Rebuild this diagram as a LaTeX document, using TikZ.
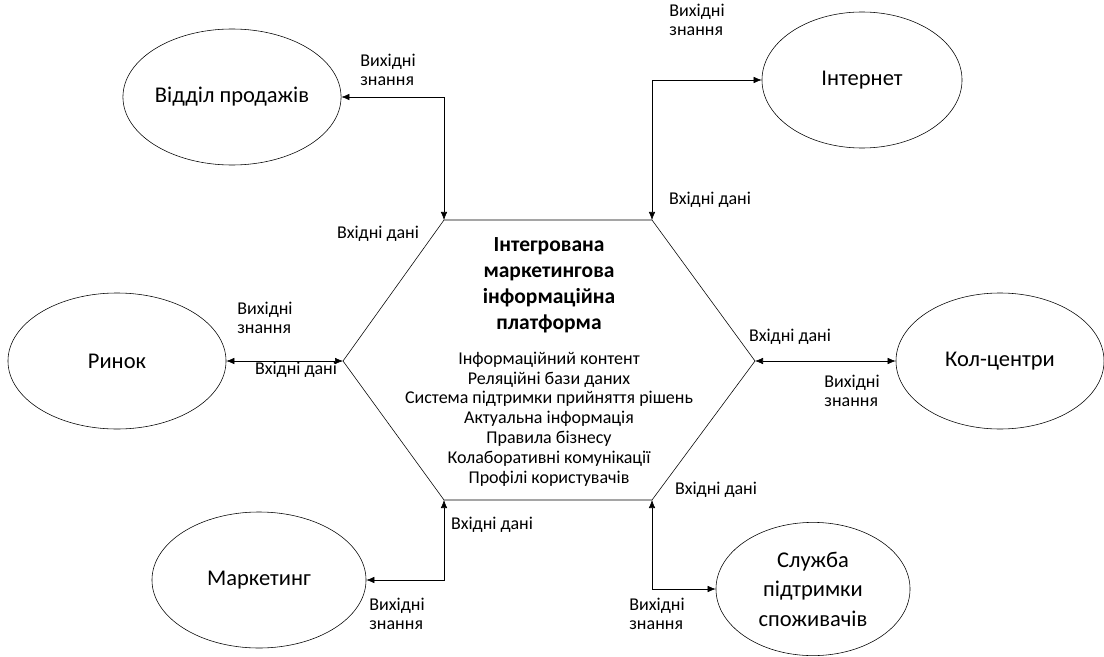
\documentclass[tikz,border=0pt]{standalone}
\usepackage{fontspec}
\setmainfont{Carlito}
\usetikzlibrary{shapes.geometric,arrows.meta}

\tikzset{
    unit/.style={draw, ellipse, inner sep=0pt, minimum width=5.4cm, minimum height=3.4cm, font=\fontsize{16}{21}\selectfont, align=center},
    flowlabel/.style={font=\fontsize{12.8}{13}\selectfont, align=left, inner sep=1pt},
    link/.style={arrows={Latex[length=2mm, width=1.6mm]-Latex[length=2mm, width=1.6mm]}, thin}
}

\begin{document}
\begin{tikzpicture}[x=0.025cm, y=-0.025cm]
    \useasboundingbox (0,0) rectangle (1104,657);

    % Platform hexagon
    \coordinate (tl) at (444,220);
    \coordinate (tr) at (652,220);
    \coordinate (r) at (755,361);
    \coordinate (br) at (652,500);
    \coordinate (bl) at (444,500);
    \coordinate (l) at (343,361);
    \draw[thin] (tl) -- (tr) -- (r) -- (br) -- (bl) -- (l) -- cycle;

    \node[align=center, font=\fontsize{15.3}{18.5}\selectfont\bfseries] (title) at (549,285) {Інтегрована\\маркетингова\\інформаційна\\платформа};
    \node[align=center, font=\fontsize{12.8}{14.1}\selectfont] (content) at (549,419) {Інформаційний контент\\Реляційні бази даних\\Система підтримки прийняття рішень\\Актуальна інформація\\Правила бізнесу\\Колаборативні комунікації\\Профілі користувачів};

    % Units
    \node[unit, minimum width=5.45cm] (sales) at (232,97) {Відділ продажів};
    \node[unit, minimum width=5cm] (internet) at (862,80) {Інтернет};
    \node[unit, minimum width=5.45cm] (market) at (117,361) {Ринок};
    \node[unit, minimum width=5.2cm] (calls) at (1000,361) {Кол-центри};
    \node[unit, minimum width=5.35cm] (marketing) at (259,580) {Маркетинг};
    \node[unit, minimum width=4.85cm, minimum height=3.33cm] (service) at (813,589) {Служба\\підтримки\\споживачів};

    % Labels
    \node[flowlabel] (salesout) at (388,70) {Вихідні\\знання};
    \node[flowlabel] (salesin) at (378,234) {Вхідні дані};
    \node[flowlabel] (internetout) at (697,20) {Вихідні\\знання};
    \node[flowlabel] (internetin) at (710,200) {Вхідні дані};
    \node[flowlabel] (marketout) at (265,318) {Вихідні\\знання};
    \node[flowlabel] (marketin) at (296,370) {Вхідні дані};
    \node[flowlabel] (callsin) at (790,337) {Вхідні дані};
    \node[flowlabel] (callsout) at (852,391) {Вихідні\\знання};
    \node[flowlabel] (marketingin) at (492,525) {Вхідні дані};
    \node[flowlabel] (marketingout) at (397,614) {Вихідні\\знання};
    \node[flowlabel] (servicein) at (716,490) {Вхідні дані};
    \node[flowlabel] (serviceout) at (657,614) {Вихідні\\знання};

    % Connections
    \draw[link] (sales.east) -| (tl);
    \draw[link] (internet.west) -| (tr);
    \draw[link] (market.east) -- (l);
    \draw[link] (r) -- (calls.west);
    \draw[link] (marketing.east) -| (bl);
    \draw[link] (service.west) -| (br);
\end{tikzpicture}
\end{document}
